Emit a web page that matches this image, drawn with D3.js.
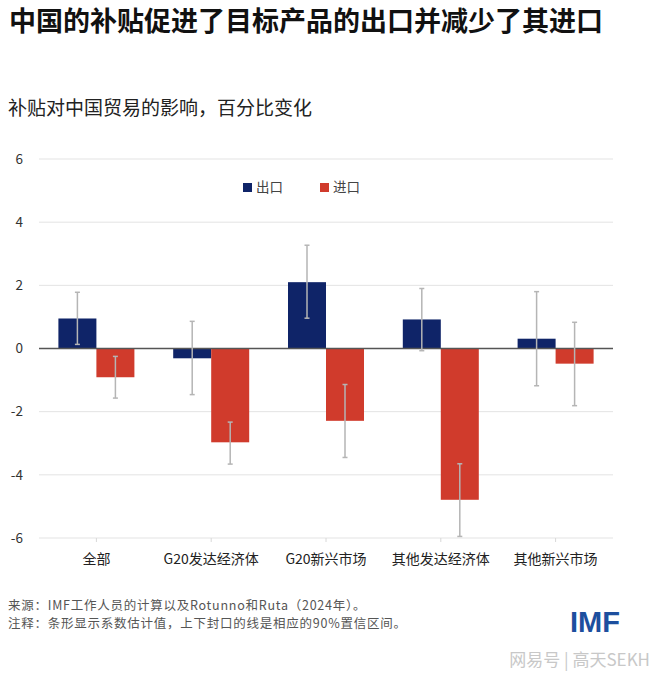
<!DOCTYPE html>
<html>
<head>
<meta charset="utf-8">
<script src="https://cdn.jsdelivr.net/npm/d3@7"></script>
<style>
  html, body { margin: 0; padding: 0; background: #fff; }
  svg { display: block; font-family: "Noto Sans CJK SC", "Noto Sans", sans-serif; }
</style>
</head>
<body>
<svg id="chart" width="660" height="679"></svg>
<script>
const categories = ["全部", "G20发达经济体", "G20新兴市场", "其他发达经济体", "其他新兴市场"];
const exportsVal = [0.95, -0.31, 2.1, 0.92, 0.31];
const exportsLow = [0.13, -1.46, 0.96, -0.07, -1.18];
const exportsHigh = [1.78, 0.86, 3.27, 1.9, 1.8];
const importsVal = [-0.91, -2.97, -2.29, -4.79, -0.48];
const importsLow = [-1.57, -3.66, -3.45, -5.95, -1.81];
const importsHigh = [-0.25, -2.33, -1.14, -3.65, 0.83];
const yTicks = [-6, -4, -2, 0, 2, 4, 6];
const seriesNames = ["出口", "进口"];
const seriesColors = ["#0f2468", "#d03b2c"];

const svg = d3.select("#chart");

// Title & subtitle
svg.append("text").attr("x", 9).attr("y", 31)
  .attr("font-size", 27).attr("font-weight", 700).attr("fill", "#111")
  .text("中国的补贴促进了目标产品的出口并减少了其进口");
svg.append("text").attr("x", 8).attr("y", 115)
  .attr("font-size", 19).attr("fill", "#222")
  .text("补贴对中国贸易的影响，百分比变化");

const left = 39, right = 613;
const x = d3.scaleBand().domain(categories).range([left, right]).paddingInner(0).paddingOuter(0);
const y = d3.scaleLinear().domain([-6, 6]).range([538, 159]);

// Gridlines
svg.append("g").selectAll("line").data(yTicks.filter(d => d !== 0)).join("line")
  .attr("x1", left).attr("x2", right)
  .attr("y1", d => y(d)).attr("y2", d => y(d))
  .attr("stroke", "#e3e3e3").attr("stroke-width", 1);

// Y axis labels
const yAxis = d3.axisLeft(y).tickValues(yTicks).tickFormat(d => String(d)).tickSize(0).tickPadding(0);
const ya = svg.append("g").attr("transform", `translate(${23},0)`).call(yAxis);
ya.select(".domain").remove();
ya.selectAll("text").attr("font-size", 13.5).attr("fill", "#333")
  .attr("font-family", "'Noto Sans CJK SC', sans-serif");

// X axis (categories)
const xAxis = d3.axisBottom(x).tickSize(4).tickPadding(12);
const xa = svg.append("g").attr("transform", `translate(0,${y(-6)})`).call(xAxis);
xa.select(".domain").remove();
xa.selectAll("line").attr("stroke", "#d8d8d8");
xa.selectAll("text").attr("font-size", 14).attr("fill", "#222")
  .attr("font-family", "'Noto Sans CJK SC', sans-serif");

const barW = 38;
const series = [
  { vals: exportsVal, lo: exportsLow, hi: exportsHigh, off: -barW, color: seriesColors[0] },
  { vals: importsVal, lo: importsLow, hi: importsHigh, off: 0, color: seriesColors[1] }
];

series.forEach(s => {
  svg.append("g").selectAll("rect").data(categories).join("rect")
    .attr("x", (c) => x(c) + x.bandwidth() / 2 + s.off)
    .attr("width", barW)
    .attr("y", (c, i) => y(Math.max(0, s.vals[i])))
    .attr("height", (c, i) => Math.abs(y(s.vals[i]) - y(0)))
    .attr("fill", s.color);
});

// Zero line
svg.append("line").attr("x1", left).attr("x2", right)
  .attr("y1", y(0)).attr("y2", y(0))
  .attr("stroke", "#555").attr("stroke-width", 1.3);

// Error bars
series.forEach(s => {
  const g = svg.append("g");
  categories.forEach((c, i) => {
    const cx = x(c) + x.bandwidth() / 2 + s.off + barW / 2;
    g.append("line").attr("x1", cx).attr("x2", cx)
      .attr("y1", y(s.lo[i])).attr("y2", y(s.hi[i]))
      .attr("stroke", "#b5b5b5").attr("stroke-width", 1.5);
    [s.lo[i], s.hi[i]].forEach(v => {
      g.append("line").attr("x1", cx - 2.5).attr("x2", cx + 2.5)
        .attr("y1", y(v)).attr("y2", y(v))
        .attr("stroke", "#b5b5b5").attr("stroke-width", 1.5);
    });
  });
});

// Legend
const legendPos = [243, 320];
seriesNames.forEach((n, i) => {
  svg.append("rect").attr("x", legendPos[i]).attr("y", 183).attr("width", 9).attr("height", 9)
    .attr("fill", seriesColors[i]);
  svg.append("text").attr("x", legendPos[i] + 13).attr("y", 192)
    .attr("font-size", 13.5).attr("fill", "#444").text(n);
});

// Footnotes
svg.append("text").attr("x", 8).attr("y", 610).attr("font-size", 12.5).attr("letter-spacing", 0.75).attr("fill", "#555")
  .text("来源：IMF工作人员的计算以及Rotunno和Ruta（2024年）。");
svg.append("text").attr("x", 8).attr("y", 628).attr("font-size", 12.5).attr("letter-spacing", 0.75).attr("fill", "#555")
  .text("注释：条形显示系数估计值，上下封口的线是相应的90%置信区间。");

// IMF logo
svg.append("text").attr("x", 620).attr("y", 632).attr("text-anchor", "end")
  .attr("font-family", "'Liberation Sans', Arial, sans-serif")
  .attr("font-size", 29).attr("font-weight", 700).attr("fill", "#1d4f9e")
  .text("IMF");

// Watermark
svg.append("text").attr("x", 650).attr("y", 666).attr("text-anchor", "end")
  .attr("font-size", 17).attr("fill", "#c8c8c8")
  .text("网易号 | 高天SEKH");
</script>
</body>
</html>
